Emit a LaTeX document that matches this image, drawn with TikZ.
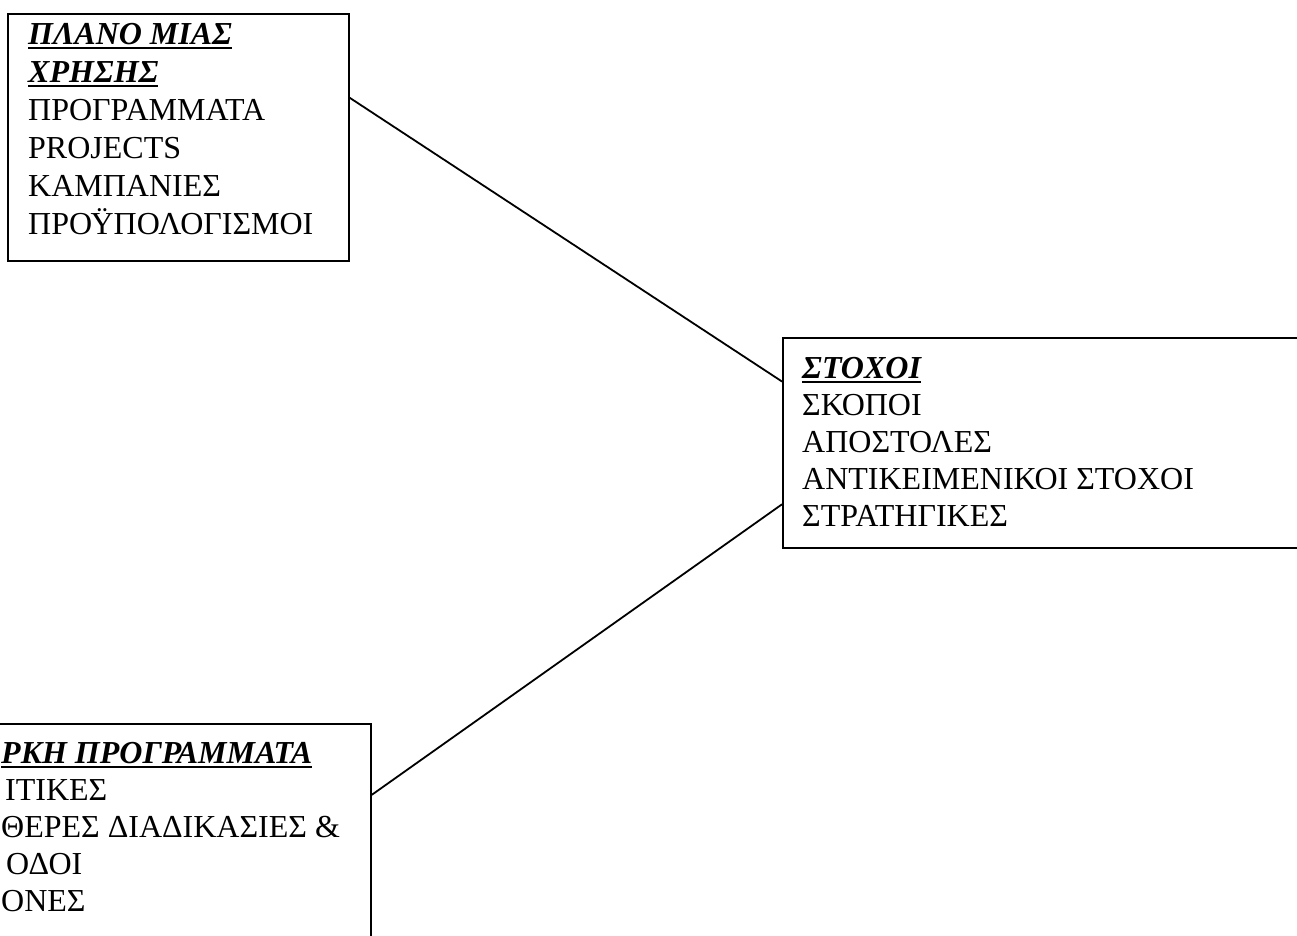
\documentclass[tikz,border=0pt]{standalone}
\usepackage{fontspec}
\setmainfont{Liberation Serif}
\usetikzlibrary{positioning}

% bold italic heading with a heavy underline
\newcommand{\ulhead}[1]{\setbox0\hbox{\bfseries\itshape #1}\rlap{\rule[-4.5pt]{\wd0}{1.8pt}}\box0}

\begin{document}
\begin{tikzpicture}
		[x=1pt,y=-1pt,
		box/.style={draw,line width=1.8pt,inner sep=0pt,anchor=north west},
		row/.style={font=\fontsize{32}{37}\selectfont,anchor=base west,inner sep=0pt},
		link/.style={line width=1.8pt}]
		\useasboundingbox (0,0) rectangle (1297,935);
		
		\node[box,minimum width=341pt,minimum height=247pt] (plan) at (7,13) {};
		\node[box,minimum width=530pt,minimum height=210pt] (goals) at (782,337) {};
		\node[box,minimum width=460pt,minimum height=240pt] (longterm) at (-90,723) {};
		
		\foreach \txt [count=\i] in {\ulhead{ΠΛΑΝΟ ΜΙΑΣ},\ulhead{ΧΡΗΣΗΣ},ΠΡΟΓΡΑΜΜΑΤΑ,PROJECTS,ΚΑΜΠΑΝΙΕΣ,ΠΡΟΫΠΟΛΟΓΙΣΜΟΙ}
		\node[row] (plan-\i) at (28,{44+38*(\i-1)}) {\txt};
		
		\foreach \txt [count=\i] in {\ulhead{ΣΤΟΧΟΙ},ΣΚΟΠΟΙ,ΑΠΟΣΤΟΛΕΣ,ΑΝΤΙΚΕΙΜΕΝΙΚΟΙ ΣΤΟΧΟΙ,ΣΤΡΑΤΗΓΙΚΕΣ}
		\node[row] (goals-\i) at (802,{378+37*(\i-1)}) {\txt};
		
		\foreach \dx/\txt [count=\i] in {1/\ulhead{ΡΚΗ ΠΡΟΓΡΑΜΜΑΤΑ},5/ΙΤΙΚΕΣ,1/ΘΕΡΕΣ ΔΙΑΔΙΚΑΣΙΕΣ \&,6/ΟΔΟΙ,1/ΟΝΕΣ}
		\node[row] (longterm-\i) at (\dx,{763+37*(\i-1)}) {\txt};
		
		\draw[link] (plan.13.7) -- (goals.167.9);
		\draw[link] (longterm.12.3) -- (goals.193.4);
		\end{tikzpicture}
\end{document}
